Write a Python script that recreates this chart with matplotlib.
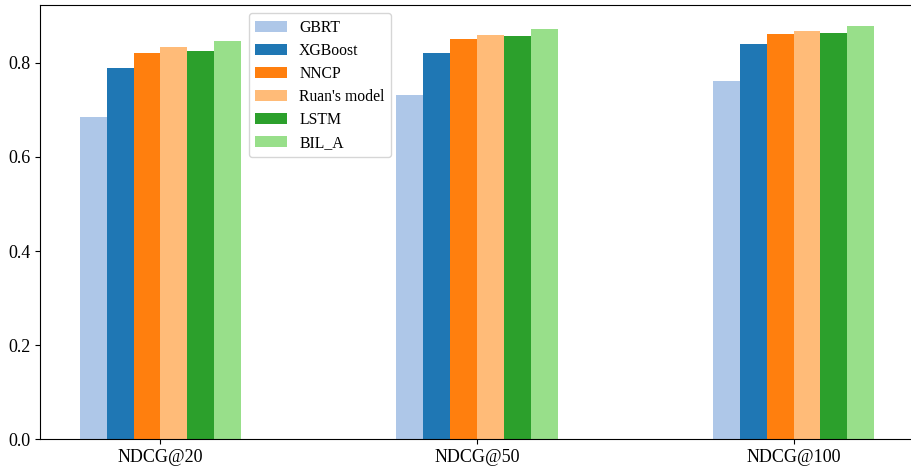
import numpy as np
import matplotlib
matplotlib.use("Agg")
from matplotlib import pyplot as plt

plt.rcParams['font.family'] = ['Liberation Serif', 'DejaVu Serif']

metrics = ["NDCG@20", "NDCG@50", "NDCG@100"]
models = ["GBRT", "XGBoost", "NNCP", "Ruan's model", "LSTM", "BIL_A"]
gbrt = [0.685, 0.731, 0.761]
xgboost = [0.790, 0.820, 0.841]
nncp = [0.822, 0.851, 0.862]
ruan = [0.833, 0.859, 0.868]
lstm = [0.826, 0.857, 0.863]
bil_a = [0.847, 0.872, 0.879]
colors = ["#aec7e8", "#1f77b4", "#ff7f0e", "#ffbb78", "#2ca02c", "#98df8a"]

series = [gbrt, xgboost, nncp, ruan, lstm, bil_a]
x = np.arange(len(metrics))
width = 0.085

fig = plt.figure(figsize=(9.11, 4.68), dpi=100)
# the original image is cut off just before the right spine
ax = fig.add_axes([40 / 911, 1 - 439.3 / 468, 874 / 911, 434.3 / 468])

for i, (vals, name) in enumerate(zip(series, models)):
    ax.bar(x + (i - 2.5) * width, vals, width, label=name, color=colors[i])

ax.set_xticks(x)
ax.set_xticklabels(metrics, fontsize=13)
ax.tick_params(axis='y', labelsize=13)
ax.legend(loc='upper left', bbox_to_anchor=(0.239, 0.981), borderaxespad=0,
          fontsize=11.3, labelspacing=0.45)

fig.savefig("out.png", dpi=100)
